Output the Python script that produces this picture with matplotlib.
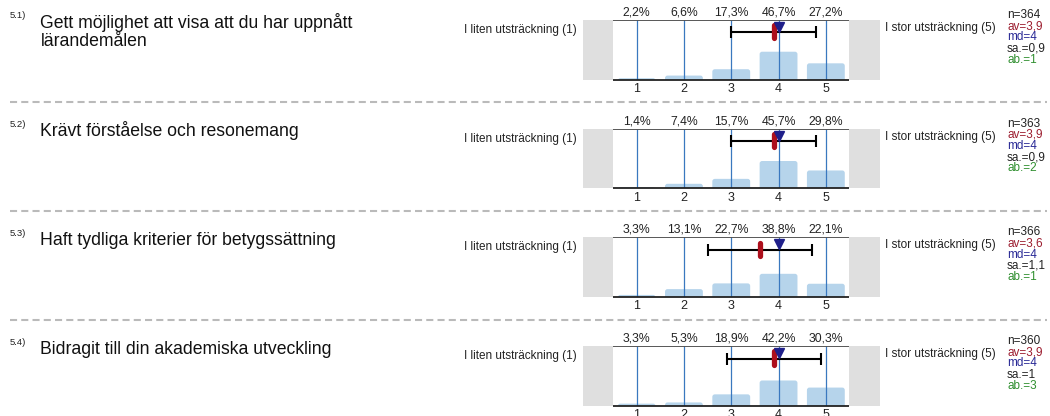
import matplotlib
matplotlib.use("Agg")
import matplotlib.pyplot as plt
from matplotlib.patches import FancyBboxPatch
from matplotlib.lines import Line2D

plt.rcParams['font.family'] = ['Liberation Sans', 'DejaVu Sans']

# ---------------- data ----------------
numbers = ["5.1)", "5.2)", "5.3)", "5.4)"]
titles = ["Gett möjlighet att visa att du har uppnått\nlärandemålen",
          "Krävt förståelse och resonemang",
          "Haft tydliga kriterier för betygssättning",
          "Bidragit till din akademiska utveckling"]
categories = [1, 2, 3, 4, 5]
pct_q1 = [2.2, 6.6, 17.3, 46.7, 27.2]
pct_q2 = [1.4, 7.4, 15.7, 45.7, 29.8]
pct_q3 = [3.3, 13.1, 22.7, 38.8, 22.1]
pct_q4 = [3.3, 5.3, 18.9, 42.2, 30.3]
pcts = [pct_q1, pct_q2, pct_q3, pct_q4]
n_vals = [364, 363, 366, 360]
av_vals = [3.9, 3.9, 3.6, 3.9]
md_vals = [4, 4, 4, 4]
sa_vals = [0.9, 0.9, 1.1, 1.0]
ab_vals = [1, 2, 1, 3]
left_label = "I liten utsträckning (1)"
right_label = "I stor utsträckning (5)"

# ---------------- layout ----------------
W, H = 1050, 416
fig = plt.figure(figsize=(W / 100, H / 100), dpi=100)
fig.patch.set_facecolor('white')

def fx(px):
    return px / W

def fy(py):
    return 1 - py / H

def fmt(v):
    s = ('%g' % v)
    return s.replace('.', ',')

BAR_C = '#b6d4eb'
LINE_C = '#3a78bf'
GRAY_C = '#dfdfdf'
RED_C = '#ad0f1c'
NAVY_C = '#1f1f8a'
AV_C = '#9c1c2e'
MD_C = '#2a2a96'
AB_C = '#2f8f2f'

tops = [20, 128.7, 237.4, 346.1]
ax_left, ax_right = 583, 880
plot_l, plot_r = 613, 849.5
ph = 59.5
unit = (plot_r - plot_l) / 5.0
xlo = 0.5 - (plot_l - ax_left) / unit
xhi = 5.5 + (ax_right - plot_r) / unit
ypx = ph / 100.0  # px per data unit in y

for i in range(4):
    top = tops[i]
    ax = fig.add_axes([fx(ax_left), fy(top + ph), (ax_right - ax_left) / W, ph / H])
    ax.set_xlim(xlo, xhi)
    ax.set_ylim(0, 100)
    for sp in ax.spines.values():
        sp.set_visible(False)
    ax.set_yticks([])
    ax.set_xticks(categories)
    ax.set_xticklabels([str(c) for c in categories], fontsize=9, color='#222222')
    ax.tick_params(axis='x', length=0, pad=2.5)

    ax.axvspan(xlo, 0.5, color=GRAY_C, lw=0, zorder=0)
    ax.axvspan(5.5, xhi, color=GRAY_C, lw=0, zorder=0)

    # bars with rounded top corners
    r_px = 2.5
    rx = r_px / unit
    ry = r_px / ypx
    for c, p in zip(categories, pcts[i]):
        bw = 0.8
        b0 = -8
        patch = FancyBboxPatch((c - bw / 2, b0), bw, p - b0,
                               boxstyle="round,pad=0,rounding_size=%f" % rx,
                               mutation_aspect=ry / rx,
                               facecolor=BAR_C, edgecolor='none', zorder=1)
        ax.add_patch(patch)
        ax.annotate(fmt(p) + '%', xy=(c, 100), xytext=(0, 1.2), textcoords='offset points',
                    ha='center', va='bottom', fontsize=8.8, color='#222222',
                    annotation_clip=False)

    ax.vlines(categories, 0, 100, color=LINE_C, lw=0.9, zorder=2)
    ax.hlines(100, 0.5, 5.5, color='#4a4a4a', lw=1.3, zorder=3)
    ax.hlines(0, 0.5, 5.5, color='#222222', lw=1.3, zorder=3, clip_on=False)

    av, md, sa = av_vals[i], md_vals[i], sa_vals[i]
    ax.errorbar([av], [79], xerr=[sa], color='black', lw=1.5, capsize=4,
                capthick=1.5, zorder=4)
    ax.plot([av, av], [69, 91], color=RED_C, lw=3.8, solid_capstyle='round', zorder=5)
    ax.plot([md], [88.5], marker='v', color=NAVY_C, ms=6.5, mec=NAVY_C, zorder=6, ls='none')

    # side labels
    fig.text(fx(577), fy(top + 10), left_label, ha='right', va='center',
             fontsize=8.5, color='#222222')
    fig.text(fx(885), fy(top + 8), right_label, ha='left', va='center',
             fontsize=8.5, color='#222222')

    # stats
    stats = [("n=%d" % n_vals[i], '#222222'),
             ("av=" + fmt(av), AV_C),
             ("md=" + fmt(md), MD_C),
             ("sa.=" + fmt(sa), '#222222'),
             ("ab.=%d" % ab_vals[i], AB_C)]
    for k, (s, col) in enumerate(stats):
        fig.text(fx(1007), fy(top - 5 + 11.2 * k), s, ha='left', va='center',
                 fontsize=8.5, color=col)

    # number and title
    fig.text(fx(10), fy(top - 4), numbers[i], ha='left', va='center',
             fontsize=6.8, color='#222222')
    for k, line in enumerate(titles[i].split('\n')):
        fig.text(fx(40.5), fy(top + 7.8 + 18 * k), line, ha='left', va='baseline',
                 fontsize=12.7, color='#111111')

# dashed separators
for sy in [101.5, 210.5, 319.5]:
    fig.add_artist(Line2D([fx(10), fx(1047)], [fy(sy), fy(sy)], transform=fig.transFigure,
                          color='#bababa', lw=1.5, ls=(0, (3.4, 2.0))))

fig.savefig('out.png', dpi=100, facecolor='white')
